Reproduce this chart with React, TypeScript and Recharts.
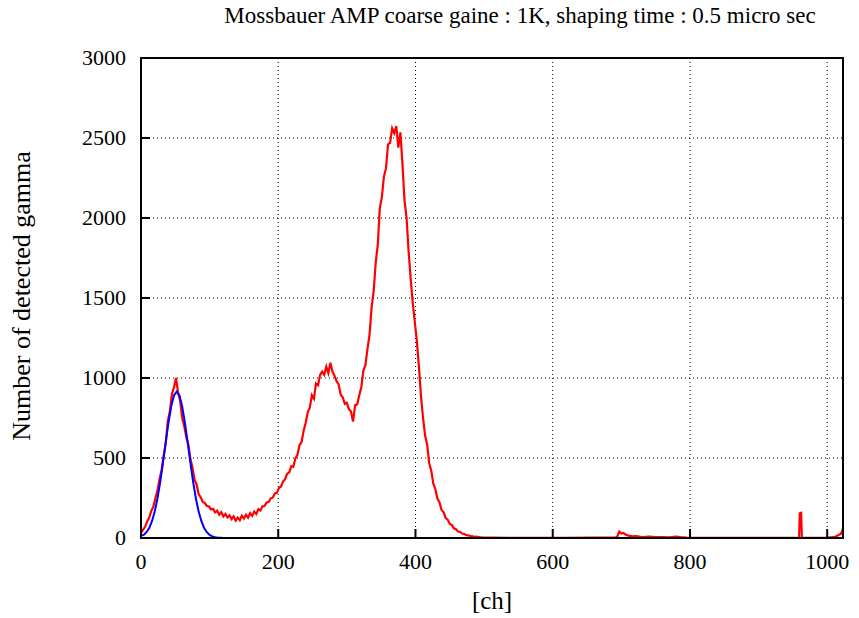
import React from 'react';
import { LineChart, Line, XAxis, YAxis, CartesianGrid } from 'recharts';

// measured spectrum, one value every 3 channels from ch 0
const redStep = 3;
const redCounts = [
  30, 52, 70, 104, 128, 170, 196, 250, 296, 368, 425, 515, 590, 730, 790, 900, 940, 1000,
  910, 860, 750, 700, 630, 585, 495, 440, 365, 335, 275, 255, 225, 218, 200, 198, 178, 182,
  160, 170, 145, 162, 135, 150, 128, 142, 118, 135, 108, 128, 112, 140, 122, 145, 128, 155,
  138, 165, 150, 180, 172, 198, 200, 222, 225, 248, 252, 278, 282, 312, 322, 352, 368, 402,
  410, 448, 445, 498, 520, 580, 600, 670, 720, 785, 815, 892, 870, 965, 955, 1020, 1040, 1020,
  1070, 1030, 1095, 1040, 1015, 980, 960, 895, 880, 838, 845, 805, 790, 728, 830, 835, 890, 940,
  1045, 1080, 1180, 1270, 1440, 1540, 1720, 1830, 2060, 2130, 2260, 2310, 2460, 2470, 2560, 2530,
  2575, 2440, 2535, 2340, 2110, 2000, 1790, 1620, 1470, 1350, 1230, 1070, 890, 750, 640, 585,
  465, 420, 340, 305, 245, 222, 175, 160, 125, 115, 88, 82, 60, 55, 40, 38, 28, 26,
  18, 17, 12, 11, 7, 8, 5, 4, 3,
];

// sparse tail of the spectrum: [channel, count]
const redTail: [number, number][] = [
  [510, 2], [540, 1], [580, 1], [620, 1], [660, 2], [690, 2], [694, 8], [697, 40], [700, 28],
  [703, 32], [706, 22], [710, 15], [716, 10], [722, 12], [730, 6], [740, 8], [750, 5], [760, 6],
  [770, 4], [780, 8], [786, 5], [795, 2], [830, 1], [900, 1], [950, 1], [959, 3], [960, 155],
  [962, 158], [963, 3], [966, 1], [1000, 2], [1010, 5], [1014, 12], [1017, 20], [1020, 25],
  [1023, 60],
];

// gaussian fit, one value every 4 channels from ch 0
const blueStep = 4;
const blueCounts = [
  15, 19, 36, 63, 105, 165, 247, 350, 469, 597, 720, 822, 891, 915, 891, 822,
  720, 597, 469, 350, 247, 165, 105, 63, 36, 19, 10, 5, 2, 1, 0,
];

const xTicks = [0, 200, 400, 600, 800, 1000];
const yTicks = [0, 500, 1000, 1500, 2000, 2500, 3000];

const redData = [
  ...redCounts.map((v, i) => ({ ch: i * redStep, v })),
  ...redTail.map(([ch, v]) => ({ ch, v })),
];
const blueData = [
  ...blueCounts.map((v, i) => ({ ch: i * blueStep, v })),
  { ch: 1023, v: 0 },
];

const FONT = '"Liberation Serif", "DejaVu Serif", serif';
const TICK = 9;

// gnuplot style: tick marks point into the plot
const BottomTick = (p: any) => (
  <g>
    <line x1={p.x} x2={p.x} y1={p.y} y2={p.y - TICK} stroke="#000" strokeWidth={2} />
    <text x={p.x} y={p.y + 31} textAnchor="middle" fontSize={22} fontFamily={FONT} fill="#000">
      {p.payload.value}
    </text>
  </g>
);
const TopTick = (p: any) => (
  <line x1={p.x} x2={p.x} y1={p.y} y2={p.y + TICK} stroke="#000" strokeWidth={2} />
);
const LeftTick = (p: any) => (
  <g>
    <line x1={p.x} x2={p.x + TICK} y1={p.y} y2={p.y} stroke="#000" strokeWidth={2} />
    <text x={p.x - 15} y={p.y + 7} textAnchor="end" fontSize={22} fontFamily={FONT} fill="#000">
      {p.payload.value}
    </text>
  </g>
);
const RightTick = (p: any) => (
  <line x1={p.x} x2={p.x - TICK} y1={p.y} y2={p.y} stroke="#000" strokeWidth={2} />
);

export default function App() {
  return (
    <div style={{ position: 'absolute', left: 0, top: 0, width: 859, height: 618, background: '#fff', fontFamily: FONT }}>
      <LineChart width={859} height={618} margin={{ top: 58, right: 16, bottom: 0, left: 0 }}>
        <CartesianGrid stroke="#000" strokeDasharray="1 3" strokeWidth={1} />
        <XAxis
          dataKey="ch"
          type="number"
          domain={[0, 1023]}
          ticks={xTicks}
          allowDataOverflow
          height={80}
          tick={BottomTick}
          tickSize={0}
          tickMargin={0}
          tickLine={false}
          axisLine={false}
        />
        <XAxis
          xAxisId="top"
          orientation="top"
          type="number"
          domain={[0, 1023]}
          ticks={xTicks}
          allowDataOverflow
          height={0}
          tick={TopTick}
          tickSize={0}
          tickMargin={0}
          tickLine={false}
          axisLine={false}
        />
        <YAxis
          type="number"
          domain={[0, 3000]}
          ticks={yTicks}
          allowDataOverflow
          width={141}
          tick={LeftTick}
          tickSize={0}
          tickMargin={0}
          tickLine={false}
          axisLine={false}
        />
        <YAxis
          yAxisId="right"
          orientation="right"
          type="number"
          domain={[0, 3000]}
          ticks={yTicks}
          allowDataOverflow
          width={0}
          tick={RightTick}
          tickSize={0}
          tickMargin={0}
          tickLine={false}
          axisLine={false}
        />
        <Line
          data={redData}
          dataKey="v"
          type="linear"
          stroke="#ff0000"
          strokeWidth={2.2}
          dot={false}
          isAnimationActive={false}
        />
        <Line
          data={blueData}
          dataKey="v"
          type="linear"
          stroke="#0000ff"
          strokeWidth={2}
          dot={false}
          isAnimationActive={false}
        />
      </LineChart>
      <div
        style={{
          position: 'absolute',
          left: 140,
          top: 57,
          width: 704,
          height: 482,
          border: '2px solid #000',
          boxSizing: 'border-box',
          pointerEvents: 'none',
        }}
      />
      <div style={{ position: 'absolute', left: 220, width: 600, top: 3, textAlign: 'center', fontSize: 23, whiteSpace: 'nowrap' }}>
        Mossbauer AMP coarse gaine : 1K, shaping time : 0.5 micro sec
      </div>
      <div style={{ position: 'absolute', left: 141, width: 702, top: 587, textAlign: 'center', fontSize: 25 }}>
        [ch]
      </div>
      <div
        style={{
          position: 'absolute',
          left: 22,
          top: 296,
          fontSize: 26,
          whiteSpace: 'nowrap',
          transform: 'translate(-50%, -50%) rotate(-90deg)',
        }}
      >
        Number of detected gamma
      </div>
    </div>
  );
}
